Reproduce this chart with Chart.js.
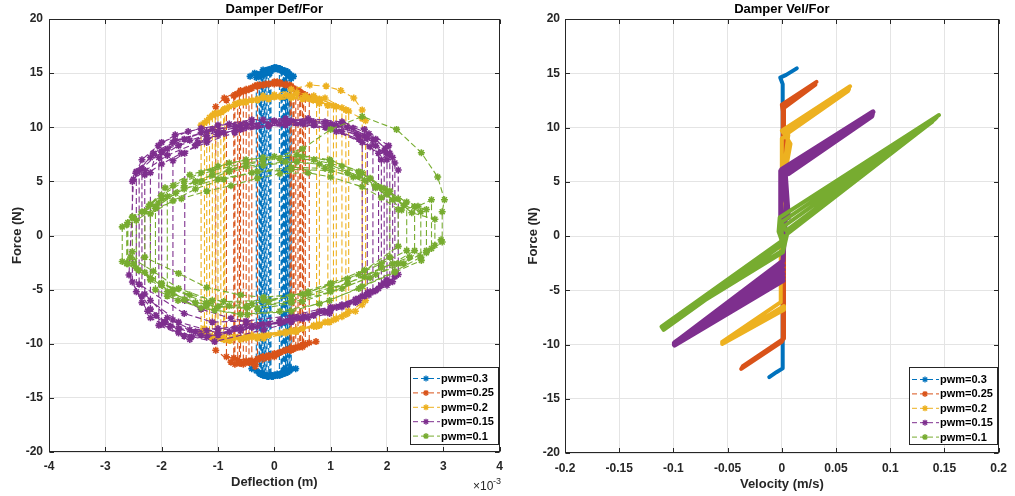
<!DOCTYPE html>
<html>
<head>
<meta charset="utf-8">
<script src="https://cdn.jsdelivr.net/npm/chart.js@4.4.1/dist/chart.umd.min.js"></script>
<style>
  html, body { margin: 0; padding: 0; background: #fff; }
  #wrap { position: relative; width: 1015px; height: 496px; }
  #defChart { position: absolute; left: 0; top: 0; }
  #velChart { position: absolute; left: 510px; top: 0; }
</style>
</head>
<body>
<div id="wrap">
  <canvas id="defChart" width="510" height="496"></canvas>
  <canvas id="velChart" width="505" height="496"></canvas>
</div>
<script>
// series names and colours (MATLAB default order)
const pwmLabels = ['pwm=0.3', 'pwm=0.25', 'pwm=0.2', 'pwm=0.15', 'pwm=0.1'];
const seriesColors = ['#0072BD', '#D95319', '#EDB120', '#7E2F8E', '#77AC30'];

// axis ticks
const forceTicks = [-20, -15, -10, -5, 0, 5, 10, 15, 20];
const defTicks = [-4, -3, -2, -1, 0, 1, 2, 3, 4];          // x 10^-3 m
const velTicks = [-0.2, -0.15, -0.1, -0.05, 0, 0.05, 0.1, 0.15, 0.2];

// deflection (x 10^-3 m), force (N)
const defPwm030 = [
  [-0.22,-12.7],[-0.22,14.8],[-0.1,15.3],[0.05,15.4],[0.2,15.1],[0.2,-12.5],[0.05,-12.9],[-0.15,-12.9],
  [-0.15,15.0],[0.0,15.4],[0.15,15.2],[0.26,14.9],[0.26,-12.4],[0.1,-12.8],[-0.05,-13.0],[-0.27,-12.7],
  [-0.27,14.7],[-0.12,15.3],[0.02,15.5],[0.12,15.3],[0.12,-12.8],[-0.05,-13.0],[-0.25,-12.8],[-0.4,-12.3],
  [-0.32,-12.5],[-0.32,14.6],[-0.2,15.1],[-0.05,15.4],[0.08,15.4],[0.22,15.0],[0.34,14.7],[0.3,14.5],
  [0.3,-12.3],[0.38,-12.3],[0.2,-12.7],[0.0,-12.9],[-0.06,-12.9],[-0.06,15.2],[0.1,15.4],[0.18,15.2],
  [0.18,-12.7],[0.05,-12.9],[-0.18,-12.9],[-0.18,15.1],[-0.3,14.9],[-0.43,14.7],[-0.35,15.0],[-0.2,15.3],
  [0.0,15.5],[0.24,15.1],[0.24,-12.6],[0.1,-12.9],[-0.12,-13.0],[-0.24,-12.8],[-0.24,14.9],[-0.1,15.3],
  [0.06,15.4],[0.16,15.2],[0.16,-12.7],[-0.02,-13.0],[-0.2,-12.9],[-0.08,-12.9],[-0.08,15.0],[0.05,15.4],
  [0.22,15.0],[0.22,-12.6],[0.0,-12.9],[-0.2,-12.9],[-0.2,14.9],[-0.05,15.4],[0.1,15.3],[0.28,14.8],
  [0.28,-12.4],[0.12,-12.8],[-0.1,-13.0],[-0.1,15.1],[0.04,15.5],[0.14,15.3],[0.14,-12.8],[-0.04,-13.0],
  [-0.26,-12.7],[-0.26,14.8],[-0.14,15.2],[0.0,15.4],[0.2,15.2],[0.2,-12.5],[0.05,-12.8],[-0.13,-13.0],
  [-0.13,15.1],[0.0,15.5],[0.09,15.4],[0.09,-12.9],[-0.1,-13.0],[-0.23,-12.8],[-0.23,14.8],[-0.08,15.3],
  [0.1,15.4],[0.27,14.9],[0.27,-12.5],[0.15,-12.8],[-0.02,-13.0],[-0.17,-12.9],[-0.17,15.0],[0.02,15.4],
  [0.23,15.1],[0.23,-12.6],[0.06,-12.9],[-0.11,-13.0]
];
const defPwm025 = [
  [-0.5,-11.6],[-0.5,13.4],[-0.2,13.9],[0.1,14.0],[0.35,13.5],[0.35,-10.4],[0.1,-10.8],[-0.2,-11.2],[-0.65,-11.5],
  [-0.65,13.1],[-0.3,13.8],[0.0,14.1],[0.27,13.9],[0.5,13.1],[0.5,-10.1],[0.2,-10.6],[-0.1,-11.1],[-0.4,-11.7],
  [-0.4,13.6],[-0.1,14.0],[0.2,13.9],[0.45,13.3],[0.45,-10.3],[0.74,-9.8],[0.5,-10.3],[0.04,-11.0],[-0.34,-12.1],
  [-0.77,-11.7],[-1.04,-10.6],[-1.04,11.9],[-0.89,12.7],[-0.6,13.4],[-0.2,13.9],[0.1,14.1],[0.3,13.7],
  [0.3,-10.6],[0.0,-11.2],[-0.35,-11.8],[-0.72,-11.3],[-0.72,12.9],[-0.42,13.6],[0.0,14.0],[0.4,13.4],[0.62,12.8],
  [0.62,-9.9],[0.3,-10.5],[-0.1,-11.3],[-0.55,-11.9],[-0.55,13.3],[-0.25,13.9],[0.05,14.2],[0.28,13.8],
  [0.28,-10.6],[0.0,-11.0],[-0.3,-11.5],[-0.6,-11.8],[-0.6,13.3],[-0.3,13.8],[0.05,14.1],[0.38,13.5],
  [0.38,-10.4],[0.1,-10.8],[-0.25,-11.3],[-0.45,-11.7],[-0.45,13.5],[-0.15,14.0],[0.2,14.0],[0.52,13.0],
  [0.52,-10.1],[0.25,-10.5],[-0.1,-11.1],[-0.7,-11.9],[-0.7,13.0],[-0.35,13.8],[0.0,14.2],[0.33,13.6],
  [0.33,-10.5],[0.05,-10.9],[-0.3,-11.4],[-0.3,13.8],[0.0,14.1],[0.42,13.4],[0.42,-10.3],[0.15,-10.7],
  [-0.2,-11.2],[-0.62,-11.8],[-0.62,13.2],[-0.3,13.9],[0.1,14.1],[0.47,13.2],[0.47,-10.2],[0.2,-10.6],
  [-0.15,-11.2],[-0.5,-11.7],[-0.85,-11.2],[-0.85,12.5],[-0.5,13.5],[-0.1,14.0],[0.3,13.8],[0.55,13.0],
  [0.55,-10.1],[0.3,-10.4],[0.0,-10.9],[-0.42,-11.6]
];
const defPwm020 = [
  [-1.1,-9.5],[-1.1,11.1],[-0.7,12.1],[-0.2,12.7],[0.3,12.8],[0.8,12.4],[1.1,11.9],[1.1,-7.7],[0.7,-8.4],
  [0.2,-9.0],[-0.3,-9.5],[-0.8,-9.7],[-1.24,-8.6],[-1.24,10.4],[-0.9,11.6],[-0.4,12.5],[0.2,13.0],[0.7,12.9],
  [1.27,11.6],[1.27,-7.3],[0.8,-8.2],[0.3,-8.9],[-0.3,-9.4],[-0.9,-9.6],[-0.9,11.6],[-0.5,12.4],[0.0,13.0],
  [0.3,13.5],[0.63,13.9],[0.92,13.8],[1.18,13.4],[1.41,12.7],[1.56,11.6],[1.56,10.8],[1.56,-6.4],[1.44,-7.0],
  [0.98,-8.0],[0.39,-8.9],[-0.19,-9.5],[-0.78,-9.7],[-1.0,-9.5],[-1.0,11.3],[-0.66,12.2],[-0.1,12.6],[0.5,12.6],
  [0.95,12.0],[0.95,-8.0],[0.4,-8.7],[-0.2,-9.2],[-0.7,-9.4],[-1.3,-9.0],[-1.3,10.2],[-1.06,11.3],[-0.6,12.3],
  [0.0,12.8],[0.69,12.5],[1.27,11.6],[1.62,10.6],[1.62,-6.0],[1.3,-7.2],[0.7,-8.3],[0.1,-9.0],[-0.5,-9.5],
  [-1.15,-9.3],[-1.15,10.9],[-0.8,11.9],[-0.3,12.5],[0.3,12.7],[0.8,12.2],[0.8,-8.3],[0.3,-8.8],[-0.4,-9.2],
  [-1.2,-9.2],[-1.2,10.6],[-0.85,11.7],[-0.3,12.6],[0.3,12.9],[0.8,12.6],[1.2,11.8],[1.2,-7.5],[0.8,-8.3],
  [0.2,-9.0],[-0.4,-9.4],[-0.88,-9.6],[-0.88,11.7],[-0.5,12.3],[0.1,12.8],[0.6,12.7],[1.05,12.0],[1.05,-7.8],
  [0.5,-8.6],[-0.1,-9.2],[-0.6,-9.6],[-1.05,-9.5],[-1.05,11.2],[-0.7,12.1],[-0.2,12.9],[0.4,13.2],[0.9,12.7],
  [1.32,11.5],[1.32,-7.0],[0.9,-8.0],[0.3,-8.8],[-0.3,-9.3],[-0.95,-9.5],[-0.95,11.4],[-0.55,12.3],[0.0,12.9],
  [0.55,12.9],[0.75,12.6],[0.75,-8.4],[0.2,-8.9],[-0.5,-9.3],[-1.27,-8.8]
];
const defPwm015 = [
  [-1.8,-7.8],[-1.8,6.9],[-1.4,8.3],[-1.0,9.3],[-0.5,10.0],[0.1,10.3],[0.7,10.2],[1.2,9.6],[1.7,8.2],[1.9,7.0],
  [1.9,-4.6],[1.5,-6.0],[0.98,-7.2],[0.3,-8.0],[-0.4,-8.4],[-1.0,-8.6],[-1.5,-8.7],[-1.94,-8.0],[-2.2,-6.8],
  [-2.2,5.8],[-2.06,8.3],[-1.76,9.3],[-1.3,9.9],[-0.8,10.3],[-0.2,10.7],[0.63,10.6],[1.21,10.4],[1.68,9.4],
  [1.97,8.05],[2.14,6.7],[2.14,-3.8],[1.8,-5.1],[1.3,-6.4],[0.6,-7.6],[-0.19,-8.7],[-1.06,-9.8],[-1.47,-9.35],
  [-1.94,-8.0],[-2.35,-6.2],[-2.52,-4.3],[-2.52,5.0],[-2.46,5.75],[-2.35,7.0],[-2.0,8.6],[-1.53,9.6],[-1.0,10.2],
  [-0.4,10.7],[0.2,10.8],[0.9,10.5],[1.4,9.9],[1.75,8.8],[1.75,-5.2],[1.2,-6.6],[0.5,-7.7],[-0.2,-8.2],
  [-0.77,-7.65],[-1.3,-6.8],[-1.59,-6.0],[-1.59,7.6],[-1.2,8.9],[-0.7,9.7],[-0.1,10.2],[0.5,10.4],[1.0,10.1],
  [1.5,9.2],[2.0,7.5],[2.2,6.05],[2.2,-3.6],[2.0,-4.6],[1.68,-5.5],[1.0,-6.9],[0.3,-7.7],[-0.5,-8.2],[-1.2,-8.8],
  [-1.7,-8.6],[-2.1,-7.4],[-2.35,-5.6],[-2.35,6.2],[-2.0,7.8],[-1.6,8.9],[-1.1,9.8],[-0.5,10.3],[0.2,10.5],
  [0.92,10.0],[1.5,8.9],[1.85,7.6],[1.85,-4.9],[1.44,-5.9],[0.8,-7.0],[0.1,-7.8],[-0.6,-8.5],[-1.2,-9.4],
  [-1.7,-9.0],[-2.0,-8.2],[-2.0,7.7],[-1.76,8.8],[-1.2,9.6],[-0.6,10.2],[0.0,10.6],[0.6,10.8],[1.2,10.5],
  [1.6,9.8],[2.03,8.3],[2.1,7.2],[2.1,-4.27],[1.44,-6.2],[0.7,-7.4],[-0.1,-8.2],[-0.8,-8.9],[-1.5,-9.6],
  [-2.2,-7.6],[-2.58,-3.65],[-2.5,5.2],[-2.29,6.0],[-1.9,7.4],[-1.36,8.6],[-0.9,9.5],[-0.3,10.1],[0.5,10.3],
  [1.1,9.6],[1.56,8.6],[1.56,-5.6],[1.0,-6.6],[0.3,-7.4],[-0.5,-7.9],[-1.1,-8.0],[-1.6,-7.2],[-2.4,-4.5],
  [-2.4,6.0],[-2.15,7.6],[-1.8,8.6],[-1.3,9.5],[-0.7,10.1],[0.0,10.5],[0.7,10.5],[1.3,10.0],[1.8,8.9],
  [2.05,7.6],[2.05,-4.3],[1.6,-5.6],[1.0,-6.8],[0.2,-7.9],[-0.6,-8.8],[-1.3,-9.2],[-1.85,-8.4],[-2.25,-7.0],
  [-2.45,-5.2],[-2.45,5.9],[-2.2,7.2],[-1.9,8.0],[-1.5,8.8],[-1.0,9.6],[-0.4,10.3],[0.3,10.6],[1.0,10.3],
  [1.6,9.2],[1.95,7.8],[1.95,-4.4],[1.5,-5.8],[0.9,-7.1],[0.1,-8.1],[-0.7,-8.6],[-1.4,-8.9],[-1.9,-7.6],
  [-2.3,-5.4],[-2.3,5.6],[-2.0,6.6],[-1.65,7.6],[-1.2,8.6],[-0.7,9.5],[-0.1,10.1],[0.5,10.5],[1.1,10.2],
  [1.65,9.0],[1.65,-5.3],[1.1,-6.6],[0.4,-7.6],[-0.4,-8.5],[-1.0,-9.2],[-1.6,-9.3],[-2.05,-8.3],[-2.05,7.2],
  [-1.7,8.3],[-1.2,9.2],[-0.6,9.8],[0.2,10.2],[0.9,10.0],[1.45,9.4],[1.8,8.3],[2.0,7.0],[2.0,-4.1],[1.7,-5.2],
  [1.2,-6.4],[0.5,-7.5],[-0.3,-8.4],[-1.0,-9.0],[-1.7,-8.0],[-2.2,-6.0]
];
const defPwm010 = [
  [-2.6,-2.6],[-2.6,1.2],[-2.23,2.7],[-1.94,4.4],[-1.5,5.6],[-1.0,6.4],[-0.5,7.0],[0.0,7.3],[0.5,7.3],[1.0,6.9],
  [1.5,5.9],[1.97,4.3],[2.3,2.8],[2.6,2.2],[2.6,-2.0],[2.14,-3.3],[1.56,-4.7],[0.98,-6.0],[0.3,-7.0],[-0.48,-7.3],
  [-1.06,-6.9],[-1.71,-6.0],[-2.11,-5.0],[-2.11,2.5],[-1.65,3.4],[-1.2,4.1],[-0.77,4.6],[-0.3,5.3],[0.1,5.7],
  [0.6,5.8],[1.0,5.4],[1.56,4.5],[1.9,3.5],[2.2,2.4],[2.2,-1.0],[1.5,-3.6],[1.0,-4.6],[0.5,-5.4],[-0.19,-5.7],
  [-0.6,-5.5],[-1.2,-4.8],[-1.7,-3.5],[-2.3,-2.0],[-2.7,-2.4],[-2.7,0.8],[-2.52,1.7],[-2.2,2.9],[-1.8,4.6],
  [-1.3,5.8],[-0.8,6.7],[-0.2,7.2],[0.4,7.45],[0.98,7.0],[1.56,5.8],[2.0,4.0],[2.44,2.1],[2.85,1.5],[2.85,-0.9],
  [2.96,-0.4],[2.61,-2.3],[2.14,-3.4],[1.5,-4.9],[0.8,-6.3],[0.1,-7.0],[-0.6,-7.3],[-1.3,-6.7],[-1.9,-5.6],
  [-1.9,3.6],[-1.4,5.0],[-0.8,6.1],[-0.2,6.9],[0.5,8.0],[1.0,9.8],[1.56,11.0],[2.17,9.8],[2.61,7.65],[2.9,5.4],
  [3.02,3.3],[2.98,2.2],[2.98,-0.6],[2.7,-1.6],[2.2,-2.6],[1.7,-3.9],[1.0,-5.2],[0.3,-6.2],[-0.5,-6.6],[-1.2,-6.2],
  [-1.8,-5.0],[-2.3,-3.4],[-2.3,2.2],[-2.0,3.4],[-1.6,4.6],[-1.1,5.6],[-0.5,6.4],[0.2,6.8],[0.8,6.6],[1.3,5.8],
  [1.8,4.6],[2.2,3.4],[2.55,2.7],[2.79,3.3],[2.79,-1.2],[2.4,-2.0],[1.9,-3.0],[1.3,-4.4],[0.6,-5.4],[-0.2,-6.0],
  [-0.9,-6.1],[-1.5,-5.5],[-2.0,-4.4],[-2.41,-3.2],[-2.52,-1.5],[-2.52,1.7],[-2.06,3.0],[-1.6,4.3],[-1.0,5.2],
  [-0.4,5.8],[0.3,6.1],[1.0,6.0],[1.6,5.1],[2.0,3.8],[2.26,2.35],[2.49,2.67],[2.49,-1.4],[2.1,-2.6],[1.6,-3.8],
  [1.0,-5.0],[0.3,-6.0],[-0.48,-6.7],[-1.2,-6.5],[-1.8,-5.4],[-2.2,-3.9],[-2.5,-2.6],[-2.45,-3.0],
  [-2.45,1.4],[-2.1,2.6],[-1.75,3.9],[-1.3,5.0],[-0.8,5.9],[-0.2,6.5],[0.4,6.8],[1.0,6.5],[1.5,5.5],[1.9,4.4],
  [2.35,3.1],[2.35,-1.4],[1.9,-2.6],[1.3,-4.0],[0.6,-5.2],[-0.1,-6.1],[-0.8,-6.5],[-1.4,-6.2],[-1.9,-5.2],
  [-2.2,-4.1],[-2.2,2.0],[-1.8,3.2],[-1.4,4.3],[-0.9,5.2],[-0.3,5.9],[0.3,6.3],[0.9,6.2],[1.4,5.4],[1.8,4.4],
  [2.1,3.3],[2.7,2.4],[2.7,-1.4],[2.3,-2.6],[1.8,-3.6],[1.2,-4.9],[0.5,-6.1],[-0.3,-6.8],[-1.0,-6.6],[-1.6,-5.9],
  [-2.0,-4.6],[-2.62,-2.6],[-2.62,1.0],[-2.35,2.2],[-2.0,3.7],[-1.6,5.0],[-1.1,6.0],[-0.5,6.7],[0.1,7.1],
  [0.7,7.0],[1.2,6.4],[1.7,5.3],[2.05,4.1],[2.05,-2.0],[1.6,-3.2],[1.0,-4.4],[0.3,-5.6],[-0.4,-6.3],[-1.1,-6.0],
  [-1.7,-4.9],[-2.15,-3.3],[-2.55,-2.0]
];

// velocity (m/s), force (N)
const velPwm030 = [
  [0.0138,15.45],[0.004,14.85],[-0.0015,14.6],[0.0008,14.0],[0.0008,-12.2],[-0.005,-12.55],[-0.0116,-13.0]
];
const velPwm025 = [
  [0.032,14.2],[0.0,12.1],[0.0008,11.5],[0.0008,-9.6],[0.0,-9.75],[-0.0375,-12.25],[-0.036,-12.0],
  [0.002,-9.45],[0.002,11.8],[0.031,13.95]
];
const velPwm020 = [
  [0.063,13.8],[0.0,9.7],[0.002,9.45],[0.062,13.55],[0.061,13.35],[0.003,9.3],[0.008,8.5],[0.004,6.3],
  [0.0,6.2],[0.0,9.0],[0.006,9.3],[0.003,7.0],[-0.001,-2.0],[-0.001,-6.1],[-0.055,-9.75],[-0.055,-9.95],
  [0.002,-6.8],[0.002,-6.45],[-0.054,-9.85]
];
const velPwm015 = [
  [0.084,11.45],[0.0,6.15],[0.006,5.75],[0.083,11.05],[0.0835,11.25],[0.003,5.95],[0.006,1.7],[-0.001,1.4],
  [-0.001,6.0],[0.004,3.0],[0.001,-2.3],[-0.099,-9.85],[0.001,-2.7],[-0.099,-9.9],[0.001,-3.1],[-0.099,-9.95],
  [0.001,-3.5],[-0.099,-10.0],[0.001,-3.8],[-0.099,-10.05],[0.001,-4.1]
];
const velPwm010 = [
  [0.145,11.15],[-0.002,1.7],[-0.003,0.4],[0.0,-0.45],[-0.111,-8.35],[-0.109,-8.65],[0.0,-0.85],
  [0.0,1.3],[0.143,10.95],[0.141,10.75],[0.002,0.9],[0.004,0.5],[0.139,10.55],[0.137,10.4],[0.005,0.2],
  [0.001,-1.5],[-0.07,-5.85],[-0.068,-5.7],[0.001,-1.3],[0.002,0.0]
];

const defSeries = [defPwm030, defPwm025, defPwm020, defPwm015, defPwm010];
const velSeries = [velPwm030, velPwm025, velPwm020, velPwm015, velPwm010];
const velLineWidths = [4, 4, 4, 5, 4];

const FONT = '"Liberation Sans", Arial, Helvetica, sans-serif';
const AXIS_COLOR = '#262626';
const GRID_COLOR = '#e4e4e4';

function drawStar(ctx, x, y, r) {
  const d = r * Math.SQRT1_2;
  ctx.beginPath();
  ctx.moveTo(x - r, y); ctx.lineTo(x + r, y);
  ctx.moveTo(x, y - r); ctx.lineTo(x, y + r);
  ctx.moveTo(x - d, y - d); ctx.lineTo(x + d, y + d);
  ctx.moveTo(x - d, y + d); ctx.lineTo(x + d, y - d);
  ctx.stroke();
}

// box, inward ticks, title, legend and exponent label
const framePlugin = {
  id: 'frame',
  afterDraw(chart, args, opts) {
    const { ctx, chartArea: a, scales: { x, y } } = chart;
    const L = Math.round(a.left) + 0.5, R = Math.round(a.right) - 0.5;
    const T = Math.round(a.top) + 0.5, B = Math.round(a.bottom) - 0.5;
    ctx.save();
    ctx.strokeStyle = AXIS_COLOR;
    ctx.lineWidth = 1;
    ctx.strokeRect(L, T, R - L, B - T);
    const tl = 4.5;
    ctx.beginPath();
    x.ticks.forEach(t => {
      const px = Math.round(x.getPixelForValue(t.value)) + 0.5;
      ctx.moveTo(px, B); ctx.lineTo(px, B - tl);
      ctx.moveTo(px, T); ctx.lineTo(px, T + tl);
    });
    y.ticks.forEach(t => {
      const py = Math.round(y.getPixelForValue(t.value)) + 0.5;
      ctx.moveTo(L, py); ctx.lineTo(L + tl, py);
      ctx.moveTo(R, py); ctx.lineTo(R - tl, py);
    });
    ctx.stroke();

    // title
    ctx.fillStyle = '#000';
    ctx.font = `bold 13px ${FONT}`;
    ctx.textAlign = 'center';
    ctx.textBaseline = 'middle';
    ctx.fillText(opts.title, (a.left + a.right) / 2, 9.5);

    // exponent
    if (opts.exponent) {
      ctx.fillStyle = AXIS_COLOR;
      ctx.textAlign = 'left';
      ctx.textBaseline = 'alphabetic';
      ctx.font = `12px ${FONT}`;
      ctx.fillText('\u00d710', opts.exponent.x, opts.exponent.y);
      ctx.font = `9px ${FONT}`;
      ctx.fillText('-3', opts.exponent.x + 20, opts.exponent.y - 6);
    }

    // legend
    const lg = opts.legend;
    ctx.fillStyle = '#fff';
    ctx.fillRect(lg.x, lg.y, lg.w, lg.h);
    ctx.strokeStyle = AXIS_COLOR;
    ctx.strokeRect(lg.x + 0.5, lg.y + 0.5, lg.w, lg.h);
    ctx.font = `bold 11px ${FONT}`;
    ctx.textAlign = 'left';
    ctx.textBaseline = 'middle';
    pwmLabels.forEach((label, i) => {
      const ry = lg.y + lg.row0 + i * lg.rowStep;
      ctx.strokeStyle = seriesColors[i];
      ctx.lineWidth = 1;
      ctx.setLineDash([5, 3]);
      ctx.beginPath();
      ctx.moveTo(lg.x + 3, ry); ctx.lineTo(lg.x + 30, ry);
      ctx.stroke();
      ctx.setLineDash([]);
      ctx.lineWidth = 1.3;
      drawStar(ctx, lg.x + 16, ry, 3);
      ctx.fillStyle = '#000';
      ctx.fillText(label, lg.x + 31, ry + 0.5);
    });
    ctx.restore();
  }
};

function axisOptions(ticks, min, max, fitSize, isX, titleText, titlePad, tickPad) {
  return {
    type: 'linear',
    min, max,
    afterBuildTicks: s => { s.ticks = ticks.map(v => ({ value: v })); },
    afterFit: s => { if (isX) s.height = fitSize; else s.width = fitSize; },
    grid: { color: GRID_COLOR, drawTicks: false, lineWidth: 1 },
    border: { display: false },
    ticks: {
      color: AXIS_COLOR,
      padding: tickPad,
      maxRotation: 0,
      autoSkip: false,
      font: { family: FONT, size: 12, weight: 'bold' },
      callback: v => String(+Number(v).toFixed(2))
    },
    title: {
      display: true,
      text: titleText,
      color: AXIS_COLOR,
      padding: titlePad,
      font: { family: FONT, size: 13, weight: 'bold' }
    }
  };
}

function baseOptions(cfg) {
  return {
    responsive: false,
    animation: false,
    events: [],
    layout: { padding: { top: 19, right: cfg.padRight, left: 0, bottom: 0 } },
    plugins: {
      legend: { display: false },
      tooltip: { enabled: false },
      frame: cfg.frame
    },
    scales: {
      x: axisOptions(cfg.xTicks, cfg.xMin, cfg.xMax, cfg.xAxisH, true, cfg.xTitle, cfg.xTitlePad, cfg.xTickPad),
      y: axisOptions(forceTicks, -20, 20, cfg.yAxisW, false, 'Force (N)', cfg.yTitlePad, cfg.yTickPad)
    }
  };
}

// Deflection vs force
new Chart(document.getElementById('defChart'), {
  type: 'scatter',
  data: {
    datasets: defSeries.map((pts, i) => ({
      label: pwmLabels[i],
      data: pts.map(([x, y]) => ({ x, y })),
      showLine: true,
      borderColor: seriesColors[i],
      backgroundColor: seriesColors[i],
      borderWidth: 1.1,
      borderDash: [6, 3],
      pointStyle: 'star',
      pointRadius: 3.5,
      pointBorderWidth: 1.6,
      pointBorderColor: seriesColors[i],
      order: defSeries.length - i
    }))
  },
  options: baseOptions({
    padRight: 4, xAxisH: 44, yAxisW: 49,
    xTicks: defTicks, xMin: -4, xMax: 4,
    xTitle: 'Deflection (m)', xTitlePad: { bottom: 6 }, xTickPad: 7,
    yTitlePad: { top: 10 }, yTickPad: 6,
    frame: {
      title: 'Damper Def/For',
      exponent: { x: 473, y: 490 },
      legend: { x: 410, y: 367, w: 88, h: 77, row0: 11.5, rowStep: 14.4 }
    }
  }),
  plugins: [framePlugin]
});

// Velocity vs force
new Chart(document.getElementById('velChart'), {
  type: 'scatter',
  data: {
    datasets: velSeries.map((pts, i) => ({
      label: pwmLabels[i],
      data: pts.map(([x, y]) => ({ x, y })),
      showLine: true,
      borderColor: seriesColors[i],
      backgroundColor: seriesColors[i],
      borderWidth: velLineWidths[i],
      borderCapStyle: 'round',
      borderJoinStyle: 'round',
      pointRadius: 0,
      order: velSeries.length - i
    }))
  },
  options: baseOptions({
    padRight: 9, xAxisH: 43, yAxisW: 55,
    xTicks: velTicks, xMin: -0.2, xMax: 0.2,
    xTitle: 'Velocity (m/s)', xTitlePad: { bottom: 4 }, xTickPad: 8,
    yTitlePad: { top: 16 }, yTickPad: 5,
    frame: {
      title: 'Damper Vel/For',
      legend: { x: 399, y: 367, w: 88, h: 77, row0: 12.5, rowStep: 14.4 }
    }
  }),
  plugins: [framePlugin]
});
</script>
</body>
</html>
